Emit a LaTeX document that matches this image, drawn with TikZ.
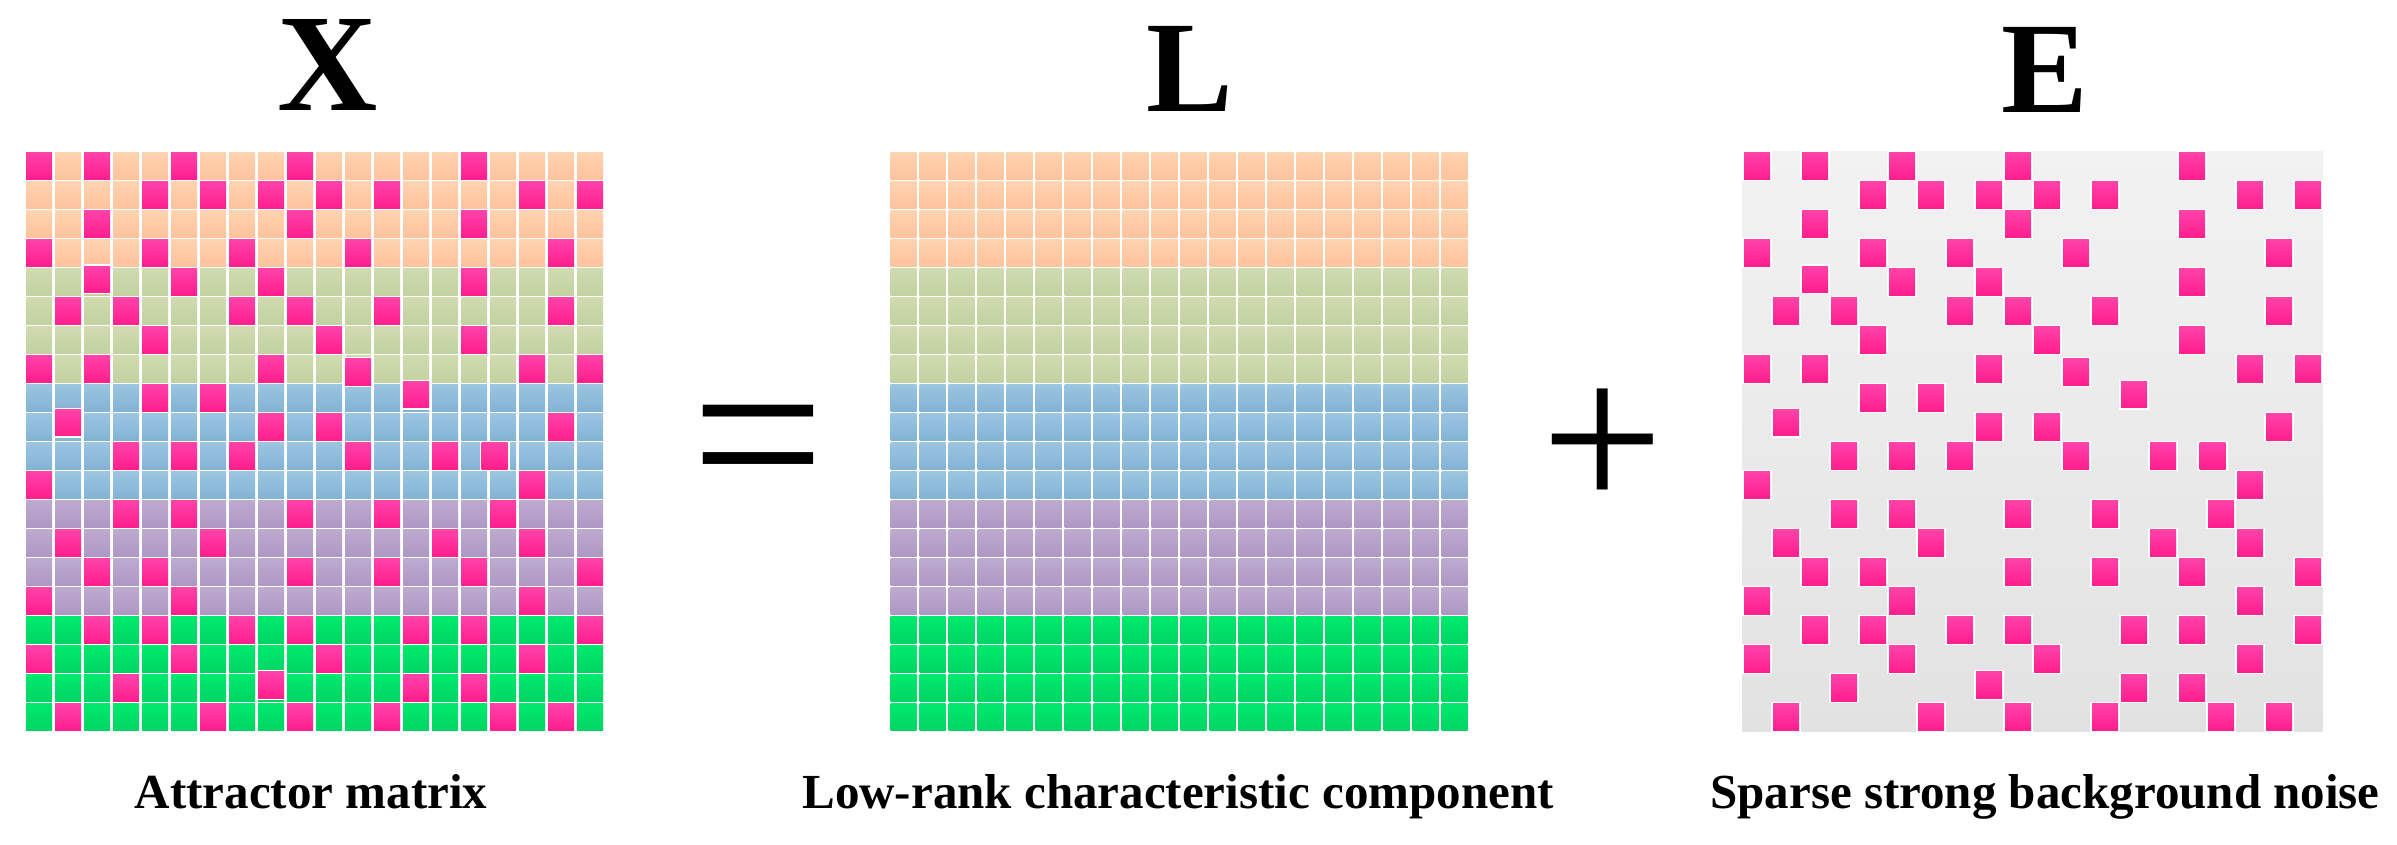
\documentclass[tikz,border=0pt]{standalone}
\usepackage{fontspec}
\setmainfont{Liberation Serif}
\definecolor{peachT}{HTML}{FFD3AF}
\definecolor{peachB}{HTML}{FEC39D}
\definecolor{sageT}{HTML}{D0DBB0}
\definecolor{sageB}{HTML}{C2D2A0}
\definecolor{blueT}{HTML}{9BC5E1}
\definecolor{blueB}{HTML}{82B3D5}
\definecolor{purpT}{HTML}{BDAACF}
\definecolor{purpB}{HTML}{AE98C4}
\definecolor{grnT}{HTML}{00EA6D}
\definecolor{grnB}{HTML}{00D564}
\definecolor{pinkT}{HTML}{FF42A8}
\definecolor{pinkB}{HTML}{FF1E8E}
\definecolor{bgT}{HTML}{F2F2F2}
\definecolor{bgB}{HTML}{E2E2E2}
\tikzset{
  bigtitle/.style={font=\fontsize{130}{130}\selectfont\bfseries, inner sep=0pt, anchor=base},
  caption/.style={font=\fontsize{49}{49}\selectfont\bfseries, inner sep=0pt, anchor=base},
  opsign/.style={font=\fontsize{237}{237}\selectfont, inner sep=0pt, anchor=base},
}
\begin{document}
\begin{tikzpicture}[x=1pt,y=-1pt]
\useasboundingbox[fill=white] (0,0) rectangle (2397,844);
\def\P{29.0}\def\I{1.45}\def\S{26.1}
% ---- X and L base grids
\foreach \gx in {24.65,889.15}{
  \foreach \b/\ct/\cb in {0/peachT/peachB,1/sageT/sageB,2/blueT/blueB,3/purpT/purpB,4/grnT/grnB}{
    \foreach \r in {0,...,3}{
      \foreach \c in {0,...,19}{
        \path[top color=\ct,bottom color=\cb] ({\gx+\c*\P+\I},{151.45+(4*\b+\r)*\P+\I}) rectangle ++(\S,\S);
      }
    }
  }
}
% ---- E background
\path[top color=bgT,bottom color=bgB] (1742.5,151.45) rectangle (2322.5,731.45);
% ---- sparse entries in X and E
\foreach \gx in {24.65,1742.55}{
  \foreach \r/\c/\dx/\dy in {
    0/0/0/0,0/2/0/0,0/5/0/0,0/9/0/0,0/15/0/0,
    1/4/0/0,1/6/0/0,1/8/0/0,1/10/0/0,1/12/0/0,1/17/0/0,1/19/0/0,
    2/2/0/0,2/9/0/0,2/15/0/0,
    3/0/0/0,3/4/0/0,3/7/0/0,3/11/0/0,3/18/0/0,
    4/2/0/-2.8,4/5/0/0,4/8/0/0,4/15/0/0,
    5/1/0/0,5/3/0/0,5/7/0/0,5/9/0/0,5/12/0/0,5/18/0/0,
    6/4/0/0,6/10/0/0,6/15/0/0,
    7/0/0/0,7/2/0/0,7/8/0/0,7/11/0/3,7/17/0/0,7/19/0/0,
    8/4/0/0,8/6/0/0,8/13/0/-3.2,
    9/1/0/-4.2,9/8/0/0,9/10/0/0,9/18/0/0,
    10/3/0/0,10/5/0/0,10/7/0/0,10/11/0/0,10/14/0/0,10/16/-8.5/0,
    11/0/0/0,11/17/0/0,
    12/3/0/0,12/5/0/0,12/9/0/0,12/12/0/0,12/16/0/0,
    13/1/0/0,13/6/0/0,13/14/0/0,13/17/0/0,
    14/2/0/0,14/4/0/0,14/9/0/0,14/12/0/0,14/15/0/0,14/19/0/0,
    15/0/0/0,15/5/0/0,15/17/0/0,
    16/2/0/0,16/4/0/0,16/7/0/0,16/9/0/0,16/13/0/0,16/15/0/0,16/19/0/0,
    17/0/0/0,17/5/0/0,17/10/0/0,17/17/0/0,
    18/3/0/0,18/8/0/-3,18/13/0/0,18/15/0/0,
    19/1/0/0,19/6/0/0,19/9/0/0,19/12/0/0,19/16/0/0,19/18/0/0}{
    \fill[white] ({\gx+\c*\P+\dx-0.6},{151.45+\r*\P+\dy-0.6}) rectangle ++(\P+1.2,\P+1.2);
    \path[top color=pinkT,bottom color=pinkB] ({\gx+\c*\P+\dx+\I},{151.45+\r*\P+\dy+\I}) rectangle ++(\S,\S);
  }
}
% ---- titles, operators, captions
\node[bigtitle,font=\fontsize{139}{139}\selectfont\bfseries] (tX) at (328,110) {X};
\node[bigtitle] (tL) at (1190,111) {L};
\node[bigtitle] (tE) at (2045,112.5) {E};
\node[opsign] (eq) at (758,513) {=};
\node[opsign,font=\fontsize{217}{217}\selectfont] (plus) at (1602.5,511) {+};
\node[caption] (cX) at (311,808) {Attractor matrix};
\node[caption] (cL) at (1178,808) {Low-rank characteristic component};
\node[caption] (cE) at (2045,808) {Sparse strong background noise};
\end{tikzpicture}
\end{document}
